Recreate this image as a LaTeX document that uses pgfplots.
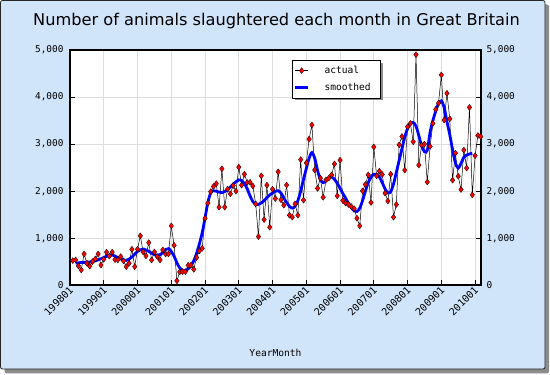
\documentclass[border=0pt]{standalone}
\usepackage{fontspec}
\setmainfont{DejaVu Sans}
\newfontfamily\monofont{DejaVu Sans Mono}
\usepackage{pgfplots}
\usepackage{pgfplotstable}
\pgfplotsset{compat=1.18}
\definecolor{bgblue}{RGB}{208,228,250}
\definecolor{gridgray}{RGB}{221,221,221}

\pgfplotstableread{
m v
1 524
2 538
3 411
4 326
5 666
6 470
7 405
8 503
9 560
10 666
11 430
12 553
13 705
14 620
15 705
16 545
17 540
18 610
19 520
20 396
21 468
22 766
23 396
24 766
25 1050
26 709
27 624
28 907
29 538
30 709
31 610
32 538
33 751
34 666
35 666
36 1262
37 851
38 95
39 285
40 290
41 290
42 426
43 426
44 340
45 590
46 730
47 785
48 1425
49 1745
50 1990
51 2100
52 2160
53 1660
54 2475
55 1660
56 2043
57 1943
58 2120
59 2000
60 2511
61 2128
62 2360
63 2184
64 2190
65 2110
66 1730
67 1035
68 2326
69 1395
70 2128
71 1234
72 2043
73 1843
74 2411
75 1815
76 1702
77 2130
78 1489
79 1447
80 1730
81 1489
82 2670
83 1810
84 2600
85 3107
86 3408
87 2450
88 2060
89 2277
90 1870
91 2241
92 2277
93 2347
94 2581
95 1900
96 2660
97 1801
98 1745
99 1716
100 1673
101 1630
102 1425
103 1262
104 2007
105 2142
106 2347
107 1758
108 2940
109 2326
110 2426
111 2355
112 1958
113 1790
114 2360
115 1447
116 1716
117 2985
118 3163
119 2447
120 3369
121 3440
122 3050
123 4900
124 2554
125 2980
126 3000
127 2195
128 2950
129 3440
130 3737
131 3870
132 4470
133 3511
134 4080
135 3539
136 2234
137 2809
138 2319
139 2035
140 2873
141 2490
142 3780
143 1922
144 2752
145 3184
146 3160
}\actualdata

\pgfplotstableread{
m v
2 470
4 485
6 490
8 505
10 540
12 590
14 640
15 645
16 620
18 560
20 530
22 600
24 720
26 770
28 720
30 650
32 650
34 760
35 780
36 720
37 620
38 480
39 370
40 320
41 310
42 350
43 420
44 520
45 680
46 880
47 1120
48 1430
49 1760
50 1960
51 2010
52 2000
54 1970
56 2030
58 2150
60 2240
61 2230
62 2160
63 2050
64 1900
65 1780
66 1720
67 1720
68 1750
69 1800
70 1860
71 1920
72 1960
73 2000
74 2010
75 1960
76 1860
77 1760
78 1680
79 1640
80 1680
81 1800
82 2000
83 2250
84 2480
85 2700
86 2820
87 2700
88 2440
89 2250
90 2180
91 2220
92 2280
93 2300
94 2250
95 2170
96 2060
97 1950
98 1850
99 1740
100 1660
101 1580
102 1570
103 1640
104 1800
105 2000
106 2180
107 2300
108 2360
109 2360
110 2300
111 2180
112 2050
113 1960
114 1990
115 2150
116 2400
117 2650
118 2900
119 3150
120 3330
121 3430
122 3460
123 3380
124 3180
125 2960
126 2840
127 2870
128 3250
129 3500
130 3700
131 3860
132 3920
133 3780
134 3480
135 3200
136 2880
137 2600
138 2490
139 2590
140 2720
141 2770
142 2790
143 2805
}\smoothdata

\begin{document}
\begin{tikzpicture}
\useasboundingbox (0pt,0pt) rectangle (550pt,375pt);
\fill[black!45, rounded corners=2pt] (4.5pt,1.5pt) rectangle (549pt,370.5pt);
\draw[fill=bgblue, draw=black!85, line width=0.8pt, rounded corners=2pt] (0.5pt,6pt) rectangle (545pt,374.5pt);

\begin{axis}[
  at={(70pt,89.7pt)}, anchor=south west,
  scale only axis, width=411pt, height=235.3pt,
  xmin=0, xmax=146.1, ymin=0, ymax=5000,
  axis background/.style={fill=white},
  xtick={0,12,...,144},
  xticklabels={199801,199901,200001,200101,200201,200301,200401,200501,200601,200701,200801,200901,201001},
  ytick={0,1000,...,5000},
  scaled y ticks=false,
  /pgf/number format/1000 sep={,},
  /pgf/number format/assume math mode=true,
  tick align=inside, xtick pos=left, ytick pos=both,
  major tick length=5pt,
  tick style={black, line width=0.8pt},
  grid=major, major grid style={draw=gridgray, line width=0.8pt},
  axis line style={line width=1.6pt},
  y tick label style={font=\monofont\fontsize{9.4}{11}\selectfont, xshift=-3pt},
  x tick label style={font=\monofont\fontsize{10}{11}\selectfont, rotate=45, anchor=east, inner sep=1pt, yshift=-3pt},
  xlabel={YearMonth},
  xlabel style={at={(axis description cs:0.5,-0.288)}, anchor=center, font=\monofont\fontsize{9.6}{11}\selectfont},
  legend image code/.code={\draw[mark repeat=2,mark phase=2,#1] plot coordinates {(0pt,0pt) (6.5pt,0pt) (13pt,0pt)};},
  legend cell align=left,
  legend style={at={(rel axis cs:0.539,0.9575)}, anchor=north west,
    draw=black, fill=white,
    font=\monofont\fontsize{9.6}{11}\selectfont,
    inner xsep=2pt, inner ysep=4pt, row sep=4pt, column sep=13pt},
]
\addplot[black, line width=0.5pt, mark=diamond*, mark size=3pt,
  mark options={fill=red, draw=black, line width=0.3pt}] table[x=m,y=v]{\actualdata};
\addlegendentry{actual}
\addplot[blue, line width=2.8pt, smooth] table[x=m,y=v]{\smoothdata};
\addlegendentry{smoothed\hspace*{5pt}}
\fill[black!45] (rel axis cs:0.5467,0.9448) rectangle (rel axis cs:0.7616,0.7888);
\end{axis}

\begin{axis}[
  at={(70pt,89.7pt)}, anchor=south west,
  scale only axis, width=411pt, height=235.3pt,
  xmin=0, xmax=146.1, ymin=0, ymax=5000,
  xtick=\empty,
  ytick={0,1000,...,5000},
  scaled y ticks=false,
  /pgf/number format/1000 sep={,},
  /pgf/number format/assume math mode=true,
  yticklabel pos=right,
  major tick length=0pt,
  axis line style={draw=none},
  y tick label style={font=\monofont\fontsize{9.4}{11}\selectfont, xshift=2pt},
]
\addplot[draw=none] coordinates {(0,0)};
\end{axis}

\node[font=\fontsize{16.2}{19}\selectfont] at (276.5pt,354pt) {Number of animals slaughtered each month in Great Britain};
\end{tikzpicture}
\end{document}
